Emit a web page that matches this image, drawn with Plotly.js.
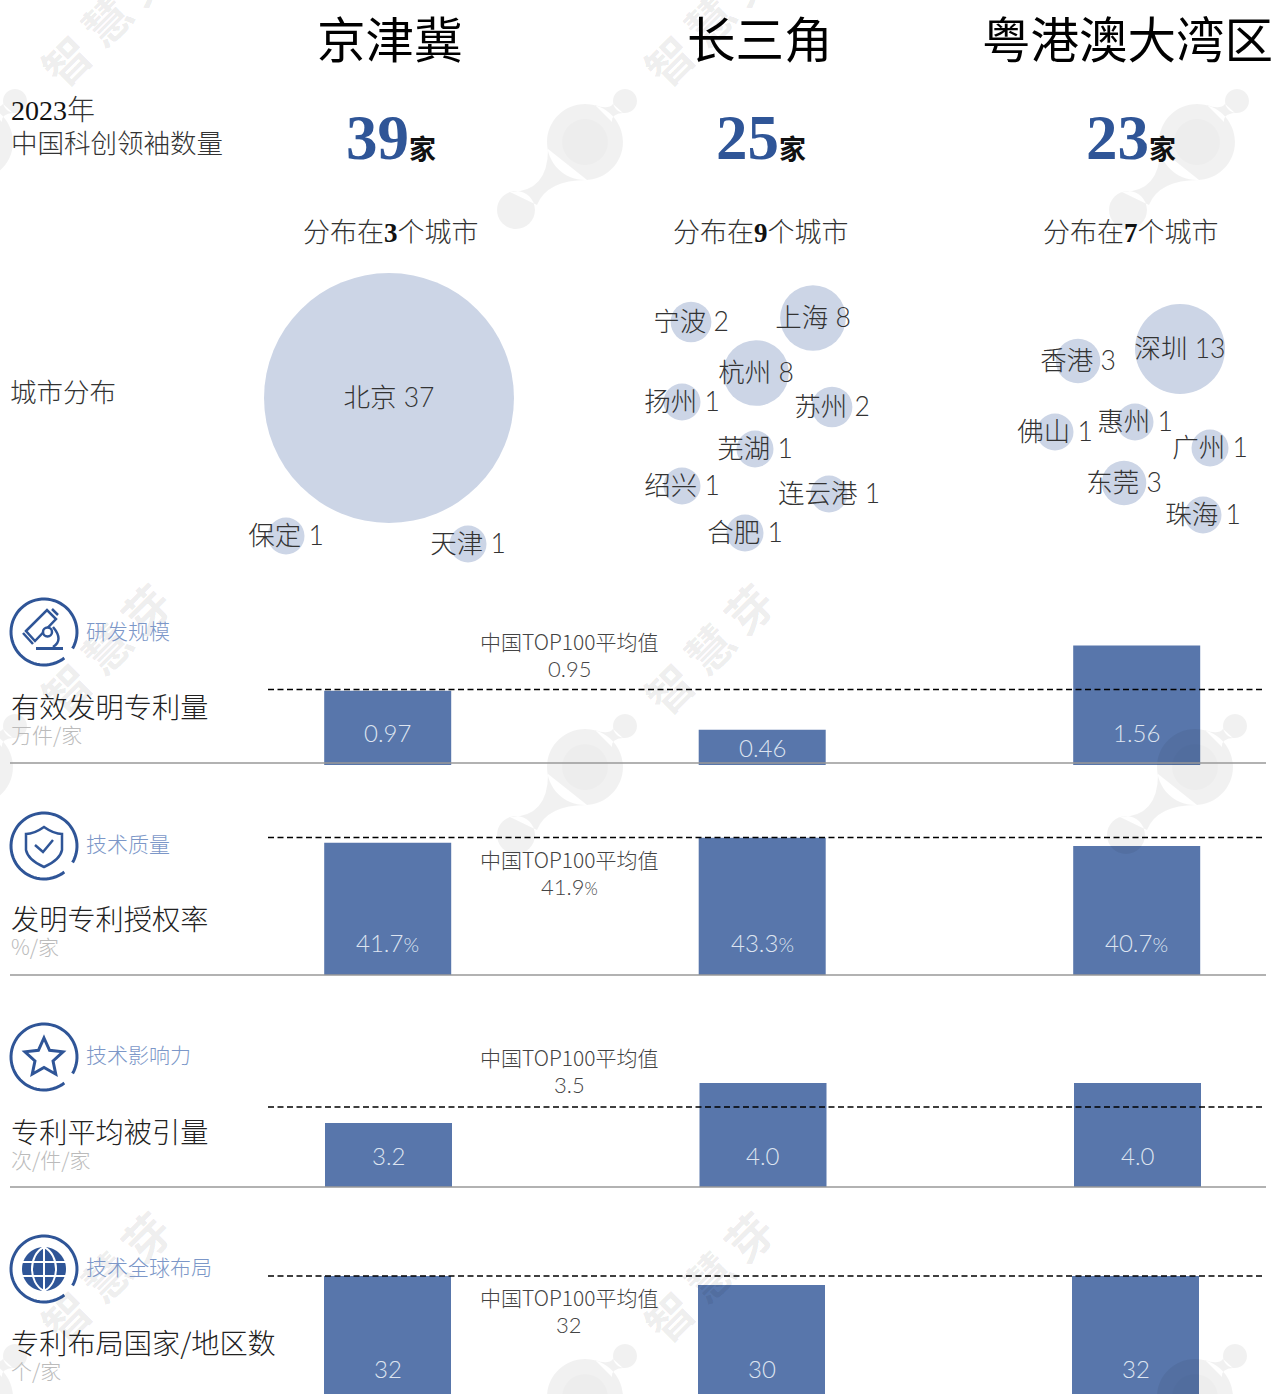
<!DOCTYPE html>
<html>
<head>
<meta charset="utf-8">
<script src="https://cdn.plot.ly/plotly-3.0.1.min.js"></script>
<style>
  html, body { margin: 0; padding: 0; background: #fff; }
  #chart { width: 1273px; height: 1394px; }
</style>
</head>
<body>
<div id="chart"></div>
<script>
// data
var regions = ['京津冀', '长三角', '粤港澳大湾区'];
var leaderCounts = [39, 25, 23];
var cityTotals = [3, 9, 7];

var cityNames = ['北京', '保定', '天津',
  '宁波', '上海', '杭州', '扬州', '苏州', '芜湖', '绍兴', '连云港', '合肥',
  '深圳', '香港', '佛山', '惠州', '广州', '东莞', '珠海'];
var cityCounts = [37, 1, 1, 2, 8, 8, 1, 2, 1, 1, 1, 1, 13, 3, 1, 1, 1, 3, 1];
var cityX = [389, 286, 468, 691, 813, 756, 682, 832, 755, 682, 829, 745, 1180, 1078, 1055, 1135, 1210, 1124, 1203];
var cityY = [398, 536, 544, 322, 318, 373, 402, 407, 449, 486, 494, 533, 349, 361, 432, 422, 448, 483, 515];

var patentCounts = [0.97, 0.46, 1.56];
var grantRates = [41.7, 43.3, 40.7];
var citations = [3.2, 4.0, 4.0];
var coverage = [32, 30, 32];
var top100Labels = ['0.95', '41.9%', '3.5', '32'];
// dashed line level as drawn in each row, on that row's own scale
var dashLevels = [0.985, 43.4, 3.52, 32];

var groupNames = ['研发规模', '技术质量', '技术影响力', '技术全球布局'];
var metricNames = ['有效发明专利量', '发明专利授权率', '专利平均被引量', '专利布局国家/地区数'];
var metricUnits = ['万件/家', '%/家', '次/件/家', '个/家'];

var W = 1273, H = 1394;
var BLUE = '#2f5597', BAR = '#5876ab', BUBBLE = '#ccd5e6';
var SANS = '"Noto Sans CJK SC", "Noto Sans", sans-serif';
var NUM = 'Lato, "Noto Sans CJK SC", sans-serif';
var SERIF = '"Liberation Serif", "Noto Sans CJK SC", serif';

// top = top of panel, base = pixel of the value `from`, k = pixels per unit
var panels = [
  {y: patentCounts, top: 640, base: 765, from: 0, k: 76.6, c0: 387.7, step: 374.5, line: 763, lift: 33, dec: 2, suffix: '', avgY: 643, nameY: 707, groupY: 632, iconY: 632},
  {y: grantRates, top: 830, base: 975, from: 0, k: 3.17, c0: 387.7, step: 374.5, line: 975, lift: 33, dec: 1, suffix: '%', avgY: 861, nameY: 919, groupY: 845, iconY: 846},
  {y: citations, top: 1075, base: 1187, from: 1.92, k: 50, c0: 388.5, step: 374.5, line: 1187, lift: 32, dec: 1, suffix: '', avgY: 1059, nameY: 1132, groupY: 1056, iconY: 1057},
  {y: coverage, top: 1270, base: 1394, from: 5.78, k: 4.5, c0: 387.5, step: 374, line: null, lift: 26, dec: 0, suffix: '', avgY: 1299, nameY: 1343, groupY: 1268, iconY: 1269}
];

function bubbleSize(c) {
  return 33.4 + 3.54 * c + 0.0625 * c * c;
}

var annotations = [], shapes = [];

function note(x, y, text, size, color, opt) {
  var a = {xref: 'x', yref: 'y', x: x, y: y - 2, text: text, showarrow: false, xanchor: 'center', yanchor: 'middle',
    font: {family: SANS, size: size, color: color, weight: 300}};
  for (var k in (opt || {})) a[k] = opt[k];
  annotations.push(a);
}

function pctLabel(s, size) {
  return s.replace('%', '<span style="font-size:' + size + 'px">%</span>');
}

// paths, all in page pixels
function circlePath(cx, cy, r) {
  var m = r * 0.5523;
  return 'M' + (cx + r) + ',' + cy +
    'C' + (cx + r) + ',' + (cy + m) + ' ' + (cx + m) + ',' + (cy + r) + ' ' + cx + ',' + (cy + r) +
    'C' + (cx - m) + ',' + (cy + r) + ' ' + (cx - r) + ',' + (cy + m) + ' ' + (cx - r) + ',' + cy +
    'C' + (cx - r) + ',' + (cy - m) + ' ' + (cx - m) + ',' + (cy - r) + ' ' + cx + ',' + (cy - r) +
    'C' + (cx + m) + ',' + (cy - r) + ' ' + (cx + r) + ',' + (cy - m) + ' ' + (cx + r) + ',' + cy + 'Z';
}

function arcPath(cx, cy, r, a0, a1) {
  var d = '', n = 60;
  for (var i = 0; i <= n; i++) {
    var a = (a0 + (a1 - a0) * i / n) * Math.PI / 180;
    d += (i ? 'L' : 'M') + (cx + r * Math.cos(a)).toFixed(2) + ',' + (cy + r * Math.sin(a)).toFixed(2);
  }
  return d;
}

function poly(pts, close) {
  return pts.map(function (p, i) { return (i ? 'L' : 'M') + p[0] + ',' + p[1]; }).join('') + (close ? 'Z' : '');
}

function pageShape(d, color, width, fill) {
  shapes.push({type: 'path', xref: 'x', yref: 'y', path: d, line: {color: color, width: width},
    fillcolor: fill || 'rgba(0,0,0,0)'});
}

// watermark
function logo(x, y) {
  var d = circlePath(x, y, 38) + circlePath(x + 40, y - 41, 12) + circlePath(x - 69, y + 68, 19);
  d += 'M' + (x + 2) + ',' + (y + 38) + 'Q' + (x - 38) + ',' + (y + 38) + ' ' + (x - 48) + ',' + (y + 63) +
    'L' + (x - 75) + ',' + (y + 50) + 'Q' + (x - 37) + ',' + (y + 50) + ' ' + (x - 37) + ',' + (y + 7) + 'Z';
  d += 'M' + (x + 10) + ',' + (y - 37) + 'Q' + (x + 23) + ',' + (y - 32) + ' ' + (x + 28) + ',' + (y - 38) +
    'L' + (x + 38) + ',' + (y - 29) + 'Q' + (x + 26) + ',' + (y - 28) + ' ' + (x + 27) + ',' + (y - 20) + 'Z';
  shapes.push({type: 'path', xref: 'x', yref: 'y', path: d, line: {width: 0}, fillcolor: 'rgba(0,0,0,0.055)'});
  shapes.push({type: 'path', xref: 'x', yref: 'y', path: circlePath(x, y, 23), line: {width: 0}, fillcolor: 'rgba(0,0,0,0.015)'});
}
[[-25, 142], [585, 142], [1197, 142], [-25, 767], [585, 767], [1195, 767], [-25, 1397], [585, 1397], [1195, 1397]].forEach(function (p) {
  logo(p[0], p[1]);
});
[[105, 20], [708, 20], [105, 648], [708, 648], [1311, 648], [105, 1276], [708, 1276], [1311, 1276]].forEach(function (p) {
  note(p[0], p[1] + 2, '智 慧 芽', 46, 'rgba(0,0,0,0.075)', {textangle: -45, font: {family: SANS, size: 46, color: 'rgba(0,0,0,0.075)', weight: 700}});
});

// header
var titleX = [390, 760, 1127];
var colX = [390, 760, 1130];
regions.forEach(function (r, i) {
  note(titleX[i], 39, r, 48.5, '#000', {font: {family: SANS, size: 48.5, color: '#000', weight: 400}});
  note(colX[i] + 1, 139.5, '<span style="font-size:63px;fill:' + BLUE + ';font-weight:bold">' + leaderCounts[i] + '</span>' +
    '<span style="font-size:27px;fill:#111;font-weight:bold">家</span>', 27, '#111', {font: {family: SERIF, size: 27, color: '#111', weight: 700}});
  note(colX[i] + 0.5, 232, '分布在<span style="font-family:\'Liberation Serif\';font-weight:bold;fill:#111">' + cityTotals[i] + '</span>个城市', 27, '#333');
});
note(9, 110, '<span style="font-family:\'Liberation Serif\';fill:#111">2023</span>年', 28, '#333', {xanchor: 'left'});
note(9, 143, '中国科创领袖数量', 26.5, '#333', {xanchor: 'left'});
note(8, 392, '城市分布', 26.5, '#333', {xanchor: 'left'});

// icons
var iconX = 44;
panels.forEach(function (p) {
  pageShape(arcPath(iconX, p.iconY, 33, 52, 390), BLUE, 3);
});
(function () {
  var y = 590;
  pageShape(poly([[26, y + 41], [47, y + 20], [56, y + 29], [35, y + 51]], true), BLUE, 2.5);
  pageShape(poly([[23, y + 43], [33, y + 54]]), BLUE, 2.5);
  pageShape(poly([[52, y + 19], [58, y + 25]]), BLUE, 2.5);
  pageShape(circlePath(47.5, y + 42, 4.5), BLUE, 2.5, '#fff');
  pageShape('M53,' + (y + 37) + 'Q64,' + (y + 50) + ' 53,' + (y + 57), BLUE, 2.5);
  pageShape(poly([[36, y + 58.5], [63, y + 58.5]]), BLUE, 3);
})();
pageShape('M44,827Q54,834 62,834L62,850Q60,860 44,867Q28,860 26,850L26,834Q34,834 44,827Z', BLUE, 2.5);
pageShape(poly([[35, 845], [43, 852], [53, 840]]), BLUE, 2.5);
(function () {
  var pts = [];
  for (var i = 0; i < 10; i++) {
    var r = i % 2 ? 9.5 : 20, a = (-90 + i * 36) * Math.PI / 180;
    pts.push([(44 + r * Math.cos(a)).toFixed(2), (1058 + r * Math.sin(a)).toFixed(2)]);
  }
  pageShape(poly(pts, true), BLUE, 3);
})();
pageShape(circlePath(44, 1269, 22), BLUE, 0, BLUE);
['M22,1262L66,1262', 'M22,1276L66,1276', 'M44,1247L44,1291',
  'M44,1247C28,1255 28,1283 44,1291', 'M44,1247C60,1255 60,1283 44,1291'].forEach(function (d) {
  pageShape(d, '#fff', 2);
});

// bubbles, then their labels a little lower than the centres
var data = [{
  type: 'scatter', mode: 'markers', xaxis: 'x', yaxis: 'y', x: cityX, y: cityY,
  marker: {color: BUBBLE, size: cityCounts.map(bubbleSize), sizemode: 'diameter', line: {width: 0}, opacity: 1},
  hoverinfo: 'skip', showlegend: false, cliponaxis: false
}, {
  type: 'scatter', mode: 'text', xaxis: 'x', yaxis: 'y', x: cityX,
  y: cityY.map(function (v) { return v + 2; }),
  text: cityNames.map(function (n, i) { return n + ' ' + cityCounts[i]; }),
  textposition: 'middle center', textfont: {family: NUM, size: 26.5, color: '#333', weight: 300},
  hoverinfo: 'skip', showlegend: false, cliponaxis: false
}];

var layout = {
  width: W, height: H, margin: {l: 0, r: 0, t: 0, b: 0}, showlegend: false,
  paper_bgcolor: '#fff', plot_bgcolor: 'rgba(0,0,0,0)',
  font: {family: SANS},
  xaxis: {domain: [0, 1], range: [0, W], visible: false, fixedrange: true},
  yaxis: {domain: [0, 1], range: [H, 0], visible: false, fixedrange: true}
};

panels.forEach(function (p, i) {
  var n = i + 2, xa = 'x' + n, ya = 'y' + n;
  var topVal = p.from + (p.base - p.top) / p.k;
  layout['xaxis' + n] = {domain: [0, 1], anchor: ya, type: 'category', categoryarray: regions, categoryorder: 'array',
    range: [-p.c0 / p.step, (W - p.c0) / p.step], visible: false, fixedrange: true};
  layout['yaxis' + n] = {domain: [1 - p.base / H, 1 - p.top / H], anchor: xa, range: [p.from, topVal], visible: false, fixedrange: true};
  data.push({type: 'bar', xaxis: xa, yaxis: ya, x: regions, y: p.y, width: 127 / p.step,
    marker: {color: BAR, line: {width: 0}}, hoverinfo: 'skip', showlegend: false});

  shapes.push({type: 'line', xref: 'paper', yref: ya, x0: 268 / W, x1: 1264 / W, y0: dashLevels[i], y1: dashLevels[i],
    line: {color: '#000', width: 1.5, dash: '6px,3.5px'}});
  if (p.line !== null) {
    shapes.push({type: 'line', xref: 'paper', yref: 'y', x0: 10 / W, x1: 1266 / W, y0: p.line, y1: p.line,
      line: {color: '#999', width: 1.5}});
  }

  p.y.forEach(function (v, j) {
    var barPx = (v - p.from) * p.k;
    annotations.push({xref: xa, yref: ya, x: j, y: p.from, yshift: Math.min(p.lift, barPx / 2),
      text: pctLabel(v.toFixed(p.dec) + p.suffix, 20),
      showarrow: false, xanchor: 'center', yanchor: 'middle', font: {family: NUM, size: 24, color: '#dde4f0', weight: 300}});
  });

  note(569, p.avgY, '中国TOP100平均值', 21, '#444');
  note(569, p.avgY + 27, pctLabel(top100Labels[i], 17), 22, '#444', {font: {family: NUM, size: 22, color: '#444', weight: 300}});
  note(84, p.groupY, groupNames[i], 21, '#7c97c8', {xanchor: 'left'});
  note(8.5, p.nameY, metricNames[i], 28.2, '#222', {xanchor: 'left'});
  note(8.5, p.nameY + 28.5, metricUnits[i], 21, '#bbb', {xanchor: 'left'});
});

layout.shapes = shapes;
layout.annotations = annotations;

Plotly.newPlot('chart', data, layout, {displayModeBar: false, responsive: false});
</script>
</body>
</html>
